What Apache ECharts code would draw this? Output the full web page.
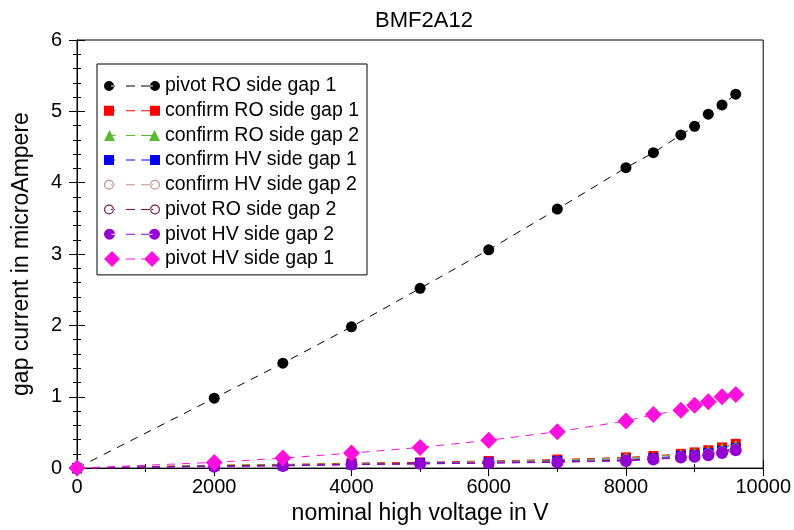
<!DOCTYPE html>
<html>
<head>
<meta charset="utf-8">
<script src="https://cdn.jsdelivr.net/npm/echarts@6/dist/echarts.min.js"></script>
<style>html,body{margin:0;padding:0;background:#fff;overflow:hidden;}#c{width:794px;height:530px;}</style>
</head>
<body>
<div id="c"></div>
<script>
var voltages = [0, 2000, 3000, 4000, 5000, 6000, 7000, 8000, 8400, 8800, 9000, 9200, 9400, 9600];
var pivotROgap1   = [0, 0.98, 1.47, 1.98, 2.52, 3.06, 3.63, 4.21, 4.42, 4.67, 4.79, 4.96, 5.09, 5.24];
var confirmROgap1 = [0, 0.04, 0.05, 0.07, 0.08, 0.10, 0.12, 0.15, 0.17, 0.20, 0.22, 0.25, 0.29, 0.34];
var confirmROgap2 = [0, 0.04, 0.05, 0.06, 0.07, 0.09, 0.11, 0.14, 0.16, 0.19, 0.21, 0.24, 0.28, 0.32];
var confirmHVgap1 = [0, 0.03, 0.04, 0.05, 0.07, 0.08, 0.10, 0.12, 0.14, 0.17, 0.18, 0.21, 0.24, 0.28];
var confirmHVgap2 = [0, 0.03, 0.04, 0.05, 0.06, 0.08, 0.09, 0.12, 0.13, 0.16, 0.17, 0.20, 0.23, 0.27];
var pivotROgap2   = [0, 0.03, 0.04, 0.05, 0.06, 0.07, 0.09, 0.11, 0.13, 0.15, 0.16, 0.19, 0.22, 0.26];
var pivotHVgap2   = [0, 0.02, 0.03, 0.05, 0.06, 0.07, 0.08, 0.10, 0.12, 0.15, 0.16, 0.18, 0.21, 0.25];
var pivotHVgap1   = [0, 0.08, 0.14, 0.21, 0.29, 0.39, 0.51, 0.66, 0.75, 0.81, 0.88, 0.93, 1.00, 1.03];

var seriesDefs = [
  {name: 'pivot RO side gap 1',   data: pivotROgap1,   color: '#000000', symbol: 'circle',      size: 11, icon: 'circle', isz: 10},
  {name: 'confirm RO side gap 1', data: confirmROgap1, color: '#ff0000', symbol: 'rect',        size: 10, icon: 'rect', isz: 10},
  {name: 'confirm RO side gap 2', data: confirmROgap2, color: '#55bb33', symbol: 'triangle',    size: 11, icon: 'triangle', isz: 11},
  {name: 'confirm HV side gap 1', data: confirmHVgap1, color: '#0000ff', symbol: 'rect',        size: 10, icon: 'rect', isz: 10},
  {name: 'confirm HV side gap 2', data: confirmHVgap2, color: '#c09090', symbol: 'emptyCircle', size: 9,  icon: 'ring', isz: 10},
  {name: 'pivot RO side gap 2',   data: pivotROgap2,   color: '#7a1050', symbol: 'emptyCircle', size: 9,  icon: 'ring', isz: 10},
  {name: 'pivot HV side gap 2',   data: pivotHVgap2,   color: '#9400d3', symbol: 'circle',      size: 12, icon: 'circle', isz: 11},
  {name: 'pivot HV side gap 1',   data: pivotHVgap1,   color: '#ff10dc', symbol: 'diamond',     size: 17, icon: 'diamond', isz: 16}
];

var font = 'Liberation Sans, Arial, Helvetica, sans-serif';
var IW = 56, IH = 16, CY = 8;

function markerPath(type, cx, s) {
  var h = s / 2;
  if (type === 'circle') {
    return 'M' + (cx - h) + ',' + CY + ' A' + h + ',' + h + ' 0 1,0 ' + (cx + h) + ',' + CY +
           ' A' + h + ',' + h + ' 0 1,0 ' + (cx - h) + ',' + CY + ' Z ';
  }
  if (type === 'ring') {
    var r = h - 1.2;
    return 'M' + (cx - h) + ',' + CY + ' A' + h + ',' + h + ' 0 1,0 ' + (cx + h) + ',' + CY +
           ' A' + h + ',' + h + ' 0 1,0 ' + (cx - h) + ',' + CY + ' Z ' +
           'M' + (cx - r) + ',' + CY + ' A' + r + ',' + r + ' 0 1,1 ' + (cx + r) + ',' + CY +
           ' A' + r + ',' + r + ' 0 1,1 ' + (cx - r) + ',' + CY + ' Z ';
  }
  if (type === 'rect') {
    return 'M' + (cx - h) + ',' + (CY - h) + ' L' + (cx + h) + ',' + (CY - h) + ' L' + (cx + h) + ',' + (CY + h) +
           ' L' + (cx - h) + ',' + (CY + h) + ' Z ';
  }
  if (type === 'triangle') {
    return 'M' + cx + ',' + (CY - h) + ' L' + (cx + h) + ',' + (CY + h) + ' L' + (cx - h) + ',' + (CY + h) + ' Z ';
  }
  return 'M' + cx + ',' + (CY - h) + ' L' + (cx + h) + ',' + CY + ' L' + cx + ',' + (CY + h) + ' L' + (cx - h) + ',' + CY + ' Z ';
}
function dashPath(x0, x1) {
  return 'M' + x0 + ',' + (CY - 0.5) + ' L' + x1 + ',' + (CY - 0.5) + ' L' + x1 + ',' + (CY + 0.5) + ' L' + x0 + ',' + (CY + 0.5) + ' Z ';
}
function legendIcon(type, s) {
  var h = s / 2;
  var p = markerPath(type, h, s) + markerPath(type, IW - h, s);
  p += dashPath(h + 2, h + 6) + dashPath(22, 31) + dashPath(37, IW - h - 2);
  return 'path://' + p;
}

var series = seriesDefs.map(function (s) {
  return {
    name: s.name,
    type: 'line',
    data: voltages.map(function (v, i) { return [v, s.data[i]]; }),
    symbol: s.symbol,
    symbolSize: s.size,
    showAllSymbol: true,
    color: s.color,
    itemStyle: {color: s.color, borderColor: s.color, borderWidth: s.symbol === 'emptyCircle' ? 1 : 0},
    lineStyle: {color: s.color, width: 1, type: [8, 7]},
    animation: false
  };
});

var chart = echarts.init(document.getElementById('c'), null, {renderer: 'canvas', width: 794, height: 530});
var axisCommonX = {
  type: 'value', min: 0, max: 10000, interval: 2000,
  axisLine: {show: true, lineStyle: {color: '#000', width: 1}},
  axisTick: {show: true, inside: true, length: 8, lineStyle: {color: '#000'}},
  minorTick: {show: true, splitNumber: 2, length: 4, lineStyle: {color: '#000'}},
  splitLine: {show: false}
};
var axisCommonY = {
  type: 'value', min: 0, max: 6, interval: 1,
  axisLine: {show: true, lineStyle: {color: '#000', width: 1}},
  axisTick: {show: true, inside: true, length: 8, lineStyle: {color: '#000'}},
  minorTick: {show: true, splitNumber: 5, length: 4, lineStyle: {color: '#000'}},
  splitLine: {show: false}
};
chart.setOption({
  backgroundColor: '#ffffff',
  animation: false,
  title: {
    text: 'BMF2A12', left: 419, top: 5, textAlign: 'center',
    textStyle: {fontFamily: font, fontSize: 22, fontWeight: 'normal', color: '#000'}
  },
  legend: {
    orient: 'vertical', left: 97, top: 64,
    padding: [12, 8, 6, 7],
    itemGap: 4.7,
    itemWidth: IW, itemHeight: IH,
    borderColor: '#000', borderWidth: 1,
    textStyle: {fontFamily: font, fontSize: 19.5, color: '#000'},
    data: seriesDefs.map(function (s) {
      return {name: s.name, icon: legendIcon(s.icon, s.isz), itemStyle: {borderWidth: 0, color: s.color}};
    })
  },
  grid: {left: 77, right: 29, top: 40, bottom: 57, show: true, borderColor: '#000', borderWidth: 1, backgroundColor: 'transparent'},
  xAxis: [Object.assign({}, axisCommonX, {
    position: 'bottom',
    name: 'nominal high voltage in V', nameLocation: 'middle', nameGap: 33,
    nameTextStyle: {fontFamily: font, fontSize: 23, color: '#000'},
    axisLabel: {fontFamily: font, fontSize: 20, color: '#000', margin: 9, formatter: function (v) { return String(v); }}
  }), Object.assign({}, axisCommonX, {
    position: 'top', axisLabel: {show: false}
  })],
  yAxis: [Object.assign({}, axisCommonY, {
    position: 'left',
    name: 'gap current in microAmpere', nameLocation: 'middle', nameGap: 44, nameRotate: 90,
    nameTextStyle: {fontFamily: font, fontSize: 23, color: '#000'},
    axisLabel: {fontFamily: font, fontSize: 20, color: '#000', margin: 15}
  }), Object.assign({}, axisCommonY, {
    position: 'right', axisLabel: {show: false}
  })],
  series: series
});
</script>
</body>
</html>
